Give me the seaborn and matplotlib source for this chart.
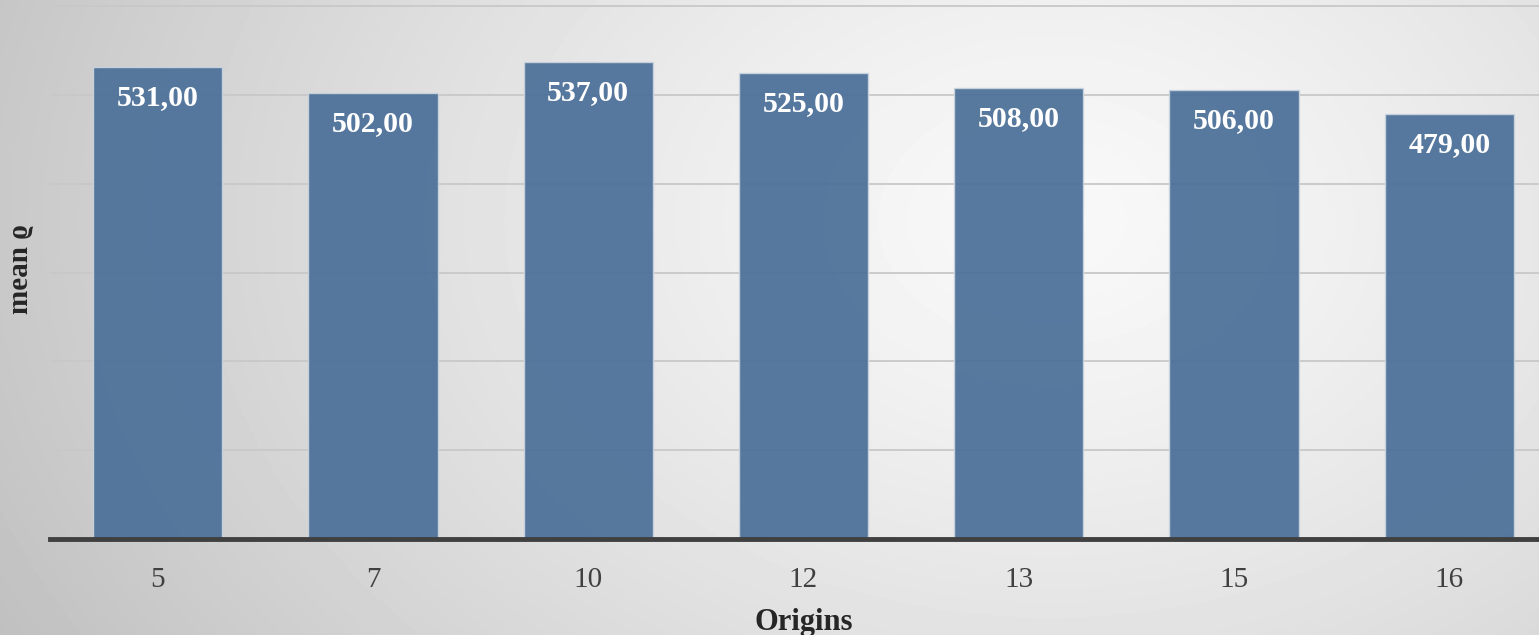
import numpy as np
import matplotlib.pyplot as plt
import seaborn as sns
import pandas as pd

origins = ['5', '7', '10', '12', '13', '15', '16']
mean_rho = [531, 502, 537, 525, 508, 506, 479]
grid_values = [100, 200, 300, 400, 500, 600]

df = pd.DataFrame({'Origins': origins, 'mean': mean_rho})

sns.set_style('white')
plt.rcParams['font.family'] = ['Liberation Serif', 'DejaVu Serif']

W, H = 1539, 635
fig = plt.figure(figsize=(W / 100, H / 100), dpi=100)

# soft radial grey background, lighter towards the centre right
bg = fig.add_axes([0, 0, 1, 1])
yy, xx = np.mgrid[0:H, 0:W]
dist = np.hypot((xx - 1050) / 1100, (yy - 220) / 800)
shade = 0.975 - 0.2 * np.clip(dist, 0, 1.2) ** 1.3
bg.imshow(shade, cmap='gray', vmin=0, vmax=1, aspect='auto', extent=[0, 1, 0, 1])
bg.axis('off')

ax = fig.add_axes([50 / W, 96 / H, 1507 / W, 539 / H])
ax.patch.set_alpha(0)

sns.barplot(data=df, x='Origins', y='mean', order=origins, color='#4f729a',
            width=0.6, saturation=1, edgecolor='#c9d3de', linewidth=1,
            alpha=0.95, ax=ax, zorder=3)

for i, v in enumerate(mean_rho):
    ax.annotate(f'{v:.2f}'.replace('.', ','), (i, v), xytext=(0, -22),
                textcoords='offset points', ha='center', va='center',
                color='white', fontsize=21.5, fontweight='bold', zorder=4)

ax.set_xlim(-0.5, 6.5)
ax.set_ylim(0, 607)
ax.set_yticks(grid_values)
ax.set_yticklabels([])
ax.yaxis.grid(True, color='#c8c8c8', linewidth=1.3)
ax.set_axisbelow(True)

for s in ['top', 'right', 'left']:
    ax.spines[s].set_visible(False)
ax.spines['bottom'].set_color('#404040')
ax.spines['bottom'].set_linewidth(3.5)
ax.spines['bottom'].set_zorder(5)

ax.tick_params(axis='both', length=0)
ax.tick_params(axis='x', pad=20, labelsize=21, labelcolor='#404040')

ax.set_xlabel('Origins', fontsize=22, fontweight='bold', color='#262626', labelpad=11)
ax.set_ylabel('mean \u03f1', fontsize=21, fontweight='bold', color='#262626', labelpad=8)

fig.savefig('out.png', dpi=100)
